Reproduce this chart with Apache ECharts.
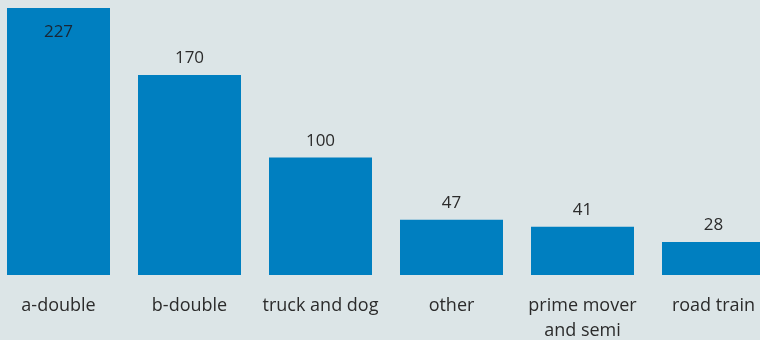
<!DOCTYPE html>
<html>
<head>
<meta charset="utf-8">
<script src="https://cdn.jsdelivr.net/npm/echarts@6/dist/echarts.min.js"></script>
<style>
  html, body { margin: 0; padding: 0; background: #dce5e7; overflow: hidden; width: 760px; height: 340px; }
  #chart { width: 786px; height: 340px; margin-left: -7px; }
</style>
</head>
<body>
<div id="chart"></div>
<script>
// Vehicle configuration counts
const categories = ['a-double', 'b-double', 'truck and dog', 'other', 'prime mover\nand semi', 'road train'];
const counts = [227, 170, 100, 47, 41, 28];

const chart = echarts.init(document.getElementById('chart'), null, { renderer: 'canvas' });

const font = '"Open Sans", "Noto Sans", sans-serif';

chart.setOption({
  backgroundColor: '#dce5e7',
  animation: false,
  grid: { left: 0, right: 0, top: 8, height: 267, containLabel: false, outerBoundsMode: 'none' },
  xAxis: {
    type: 'category',
    data: categories,
    axisLine: { show: false },
    axisTick: { show: false },
    axisLabel: {
      color: '#2b2b2b',
      fontSize: 18,
      fontFamily: font,
      margin: 18,
      lineHeight: 25,
      interval: 0
    }
  },
  yAxis: {
    type: 'value',
    min: 0,
    max: 227,
    show: false,
    splitLine: { show: false }
  },
  series: [{
    type: 'bar',
    barWidth: 103,
    itemStyle: { color: '#007fc0' },
    data: counts.map((v, i) => ({
      value: v,
      label: i === 0
        ? { position: 'insideTop', distance: 16, color: '#1a2633' }
        : { position: 'top', distance: 8 }
    })),
    label: {
      show: true,
      position: 'top',
      color: '#2b2b2b',
      fontSize: 17,
      fontFamily: font
    }
  }]
});
</script>
</body>
</html>
